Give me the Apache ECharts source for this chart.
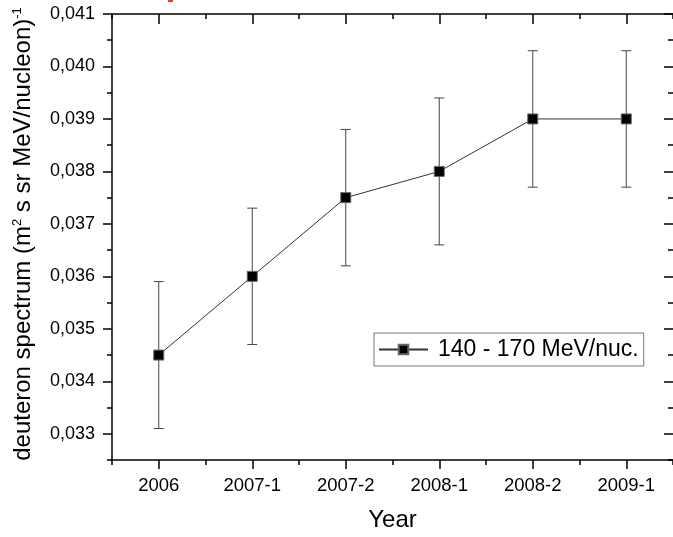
<!DOCTYPE html>
<html>
<head>
<meta charset="utf-8">
<script src="https://cdn.jsdelivr.net/npm/echarts@6/dist/echarts.min.js"></script>
<style>html,body{margin:0;padding:0;background:#fff}#c{width:673px;height:537px}</style>
</head>
<body>
<div id="c"></div>
<script>
var categories = ['2006', '2007-1', '2007-2', '2008-1', '2008-2', '2009-1'];
var values = [0.0345, 0.0360, 0.0375, 0.0380, 0.0390, 0.0390];
var errLow = [0.0331, 0.0347, 0.0362, 0.0366, 0.0377, 0.0377];
var errHigh = [0.0359, 0.0373, 0.0388, 0.0394, 0.0403, 0.0403];
var yMajorTicks = [0.033, 0.034, 0.035, 0.036, 0.037, 0.038, 0.039, 0.040, 0.041];
var yMinorTicks = [0.0325, 0.0335, 0.0345, 0.0355, 0.0365, 0.0375, 0.0385, 0.0395, 0.0405];
var seriesName = '140 - 170 MeV/nuc.';

var FONT = '"Liberation Sans", Arial, sans-serif';
var chart = echarts.init(document.getElementById('c'), null, {renderer: 'canvas'});

var errData = categories.map(function (c, i) { return [i, errLow[i], errHigh[i]]; });

function xAx(pos, major, showLine, inside, len, label) {
  return {
    type: 'category', data: categories, position: pos, boundaryGap: true, gridIndex: 0,
    axisLine: {show: showLine, lineStyle: {color: '#000', width: 1.5}},
    axisTick: {show: true, alignWithLabel: major, inside: inside, length: len,
      lineStyle: {color: '#000', width: 1.5}},
    axisLabel: label ? {show: true, color: '#000', fontSize: 18.5, fontFamily: FONT, margin: 16} : {show: false},
    splitLine: {show: false}
  };
}
function yAx(pos, ticks, showLine, inside, len, label) {
  return {
    type: 'value', position: pos, min: 0.0325, max: 0.041, gridIndex: 0,
    axisLine: {show: showLine, lineStyle: {color: '#000', width: 1.5}},
    axisTick: {show: true, inside: inside, length: len, customValues: ticks,
      lineStyle: {color: '#000', width: 1.5}},
    axisLabel: label ? {show: true, customValues: ticks, color: '#000', fontSize: 18, fontFamily: FONT, margin: 17,
      formatter: function (v) { return v.toFixed(3).replace('.', ','); }} : {show: false},
    splitLine: {show: false}
  };
}

var xMain = xAx('bottom', true, true, false, 9, true);
xMain.name = 'Year';
xMain.nameLocation = 'middle';
xMain.nameGap = 48;
xMain.nameTextStyle = {color: '#000', fontSize: 24, fontFamily: FONT};

var option = {
  animation: false,
  backgroundColor: '#fff',
  textStyle: {fontFamily: FONT},
  grid: {left: 112, top: 14, width: 562, height: 452, containLabel: false},
  xAxis: [
    xMain,
    xAx('bottom', false, false, false, 5, false),
    xAx('top', true, true, true, 10, false),
    xAx('top', false, false, true, 5, false)
  ],
  yAxis: [
    yAx('left', yMajorTicks, true, false, 9, true),
    yAx('left', yMinorTicks, false, false, 5, false),
    yAx('right', yMajorTicks, false, true, 9, false),
    yAx('right', yMinorTicks, false, true, 5, false)
  ],
  legend: {
    data: [seriesName],
    left: 374, top: 333,
    orient: 'horizontal',
    borderColor: '#777', borderWidth: 1,
    padding: [5, 5, 5, 4],
    itemWidth: 49, itemHeight: 12,
    textStyle: {color: '#000', fontSize: 23, fontFamily: FONT, padding: [0, 0, 0, 5]}
  },
  graphic: [
    {
      type: 'text', x: 23, y: 234, rotation: Math.PI / 2,
      style: {
        text: 'deuteron spectrum (m{sup|2} s sr MeV/nucleon){sup|-1}',
        fill: '#000', font: '24px ' + FONT, align: 'center', verticalAlign: 'middle',
        rich: {sup: {fontSize: 13, fontFamily: FONT, verticalAlign: 'top', fill: '#000'}}
      }
    },
    {type: 'rect', shape: {x: 168, y: 0, width: 5, height: 2}, style: {fill: '#e8402a'}}
  ],
  series: [
    {
      type: 'custom', name: 'err', xAxisIndex: 0, yAxisIndex: 0, z: 1,
      data: errData,
      encode: {x: 0, y: [1, 2]},
      renderItem: function (params, api) {
        var lo = api.coord([api.value(0), api.value(1)]);
        var hi = api.coord([api.value(0), api.value(2)]);
        var w = 5;
        var st = {stroke: '#444', lineWidth: 1};
        return {type: 'group', children: [
          {type: 'line', shape: {x1: lo[0], y1: lo[1], x2: hi[0], y2: hi[1]}, style: st},
          {type: 'line', shape: {x1: lo[0] - w, y1: lo[1], x2: lo[0] + w, y2: lo[1]}, style: st},
          {type: 'line', shape: {x1: hi[0] - w, y1: hi[1], x2: hi[0] + w, y2: hi[1]}, style: st}
        ]};
      }
    },
    {
      type: 'line', name: seriesName, xAxisIndex: 0, yAxisIndex: 0, z: 3,
      data: values,
      symbol: 'rect', symbolSize: 10,
      itemStyle: {color: '#000', borderColor: '#666', borderWidth: 1},
      lineStyle: {color: '#333', width: 1}
    }
  ]
};
chart.setOption(option);
</script>
</body>
</html>
